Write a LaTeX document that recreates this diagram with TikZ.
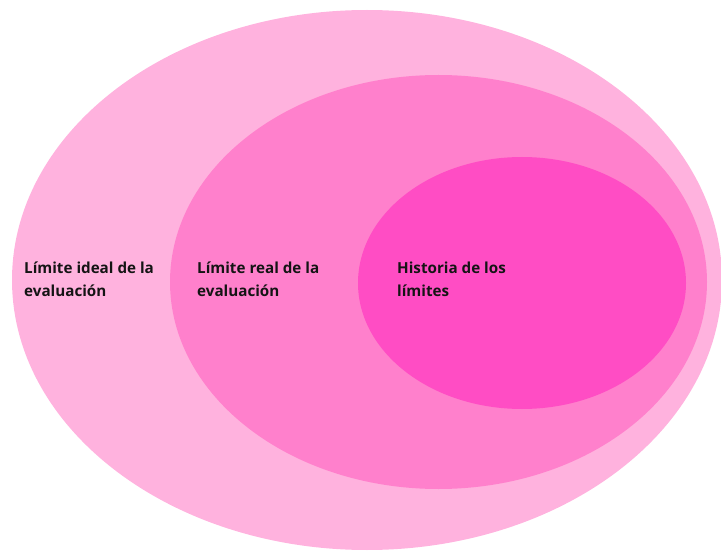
\documentclass[tikz,border=0pt]{standalone}
\usepackage{fontspec}
\setmainfont{Open Sans}
\usepackage{tikz}
\usetikzlibrary{shapes}
\definecolor{outerpink}{RGB}{255,178,222}
\definecolor{midpink}{RGB}{255,128,204}
\definecolor{innerpink}{RGB}{255,77,196}

\begin{document}
\begin{tikzpicture}[x=1pt,y=1pt,
      zone/.style={ellipse,draw=none,inner sep=0pt},
      label/.style={anchor=base west,align=left,inner sep=0pt,
        font=\fontsize{15.2}{23}\selectfont\bfseries,text=black!92}]
      \useasboundingbox (0,0) rectangle (721,550);
      \node[zone,fill=outerpink,minimum width=710,minimum height=540] (ideal) at (367,270) {};
      \node[zone,fill=midpink,minimum width=537,minimum height=414] (real) at (438.5,268) {};
      \node[zone,fill=innerpink,minimum width=328,minimum height=252] (hist) at (522,267) {};
      \node[label] (idealtxt) at (24,254) {Límite ideal de la\\evaluación};
      \node[label] (realtxt) at (197,254) {Límite real de la\\evaluación};
      \node[label] (histtxt) at (397,254) {Historia de los\\límites};
\end{tikzpicture}
\end{document}
